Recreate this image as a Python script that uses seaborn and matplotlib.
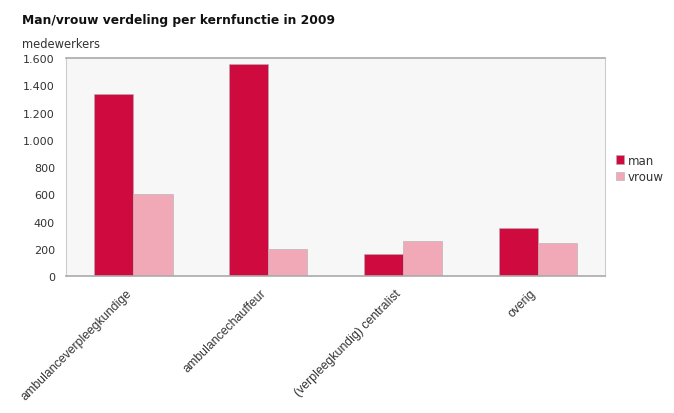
import matplotlib
matplotlib.use("Agg")
import matplotlib.pyplot as plt
import matplotlib.transforms as mtransforms
import seaborn as sns
import pandas as pd

categories = ["ambulanceverpleegkundige", "ambulancechauffeur", "(verpleegkundig) centralist", "overig"]
man = [1340, 1560, 165, 355]
vrouw = [600, 200, 258, 240]
series = ["man", "vrouw"]
yticks = [0, 200, 400, 600, 800, 1000, 1200, 1400, 1600]
ytick_labels = ["0", "200", "400", "600", "800", "1.000", "1.200", "1.400", "1.600"]

df = pd.DataFrame({
    "kernfunctie": categories * 2,
    "geslacht": ["man"] * 4 + ["vrouw"] * 4,
    "aantal": man + vrouw,
})

sns.set_style("white")
plt.rcParams["font.family"] = ["DejaVu Sans"]

fig = plt.figure(figsize=(6.74, 4.14), dpi=100)
ax = fig.add_axes([0.098, 0.331, 0.8, 0.526])
ax.set_facecolor("#f7f7f7")

palette = {"man": "#cf0a3f", "vrouw": "#f2a9b7"}
sns.barplot(data=df, x="kernfunctie", y="aantal", hue="geslacht", order=categories,
            hue_order=series, palette=palette, width=0.58, ax=ax, saturation=1,
            edgecolor="#b0b0b0", linewidth=0.4)

ax.set_xlim(-0.5, 3.5)
ax.set_ylim(0, 1600)
ax.set_yticks(yticks)
ax.set_yticklabels(ytick_labels, fontsize=8, color="#333333")
ax.set_xticks(range(len(categories)))
ax.set_xticklabels(categories, rotation=45, ha="right", rotation_mode="anchor",
                   fontsize=8.8, color="#333333", family=["Liberation Sans"])
ax.tick_params(axis="y", length=0, pad=8)
ax.tick_params(axis="x", length=0, pad=8)
ax.set_xlabel("")
ax.set_ylabel("")

for lab in ax.get_xticklabels():
    lab.set_transform(lab.get_transform() + mtransforms.ScaledTranslation(-8 / 100, 0, fig.dpi_scale_trans))

for s in ["top", "bottom"]:
    ax.spines[s].set_color("#aaaaaa")
    ax.spines[s].set_linewidth(1.2)
for s in ["left", "right"]:
    ax.spines[s].set_color("#cccccc")
    ax.spines[s].set_linewidth(0.8)

leg = ax.legend(loc="upper left", bbox_to_anchor=(1.0, 0.61), frameon=False,
                fontsize=8.5, handlelength=0.7, handleheight=0.7, handletextpad=0.3,
                labelspacing=0.3)
for t in leg.get_texts():
    t.set_color("#333333")

fig.text(0.033, 0.95, "Man/vrouw verdeling per kernfunctie in 2009", fontsize=8.8,
         fontweight="bold", color="#111111", va="center")
fig.text(0.033, 0.893, "medewerkers", fontsize=8.3, color="#333333", va="center")

fig.savefig("out.png", dpi=100)
